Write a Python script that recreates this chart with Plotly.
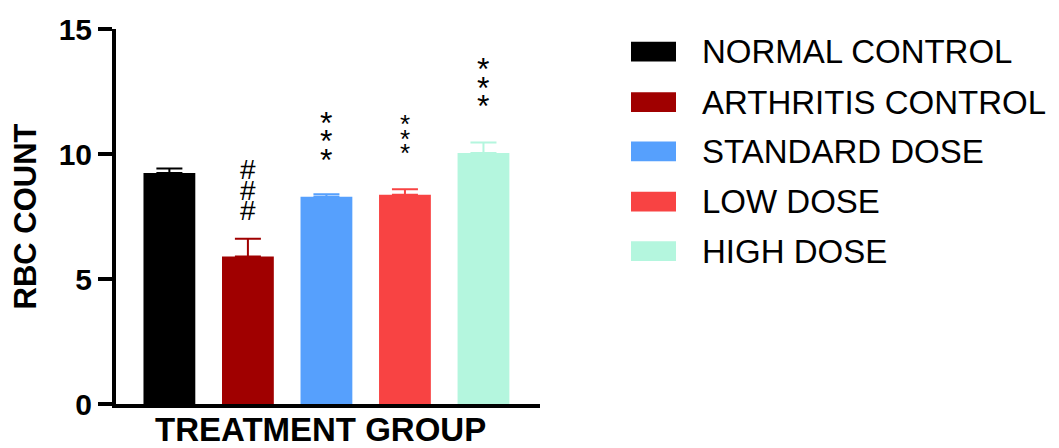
import plotly.graph_objects as go

# Group means and SEM of the RBC count per treatment group
groups = ["NORMAL CONTROL", "ARTHRITIS CONTROL", "STANDARD DOSE", "LOW DOSE", "HIGH DOSE"]
rbc_mean = [9.24, 5.90, 8.29, 8.37, 10.04]
rbc_sem = [0.18, 0.71, 0.10, 0.22, 0.42]
# Significance marks shown above each bar ("#" vs normal, "*" vs arthritis)
sig_marks = ["", "#", "*", "*", "*"]
y_ticks = [0, 5, 10, 15]

colors = ["#000000", "#A00000", "#56A0FD", "#F84343", "#B4F6DE"]
mark_font = [28, 28, 32, 26, 32]            # font size of each symbol
mark_step = [20.5, 20.5, 18.5, 14.5, 18.5]  # spacing between stacked symbols (px)
mark_gap = [28, 28, 37, 38, 39]             # lift of the first symbol centre above the cap (px)

FONT = "Arial, Liberation Sans, sans-serif"

# Plot area in pixels (left, right, top, bottom)
W, H = 1059, 448
L, R, T, B = 116, 540, 24, 404

fig = go.Figure()
for name, m, s, c in zip(groups, rbc_mean, rbc_sem, colors):
    fig.add_trace(go.Bar(
        x=[name], y=[m], width=0.66,
        marker=dict(color=c, line=dict(width=0)),
        error_y=dict(type="data", array=[s], arrayminus=[0], symmetric=False,
                     color=c, thickness=2, width=13),
        showlegend=False, hoverinfo="skip",
    ))

annotations = []
# stacked significance symbols above the error bars
for i, (name, m, s, mk) in enumerate(zip(groups, rbc_mean, rbc_sem, sig_marks)):
    if not mk:
        continue
    # an asterisk sits high in its line box, so pull it down a little
    glyph_lift = 0.08 * mark_font[i] if mk == "*" else 0
    for j in range(3):
        annotations.append(dict(
            x=name, y=m + s, xref="x", yref="y", text=mk, showarrow=False,
            yanchor="middle", yshift=mark_gap[i] + j * mark_step[i] - glyph_lift,
            font=dict(family=FONT, size=mark_font[i], color="#000000"),
        ))

def px_x(p):
    return (p - L) / (R - L)

def px_y(p):
    return (B - p) / (B - T)

# legend drawn as swatches + labels
shapes = []
row_y = [47, 98, 148, 199, 249]
for name, c, ry in zip(groups, colors, row_y):
    shapes.append(dict(type="rect", xref="paper", yref="paper",
                       x0=px_x(631), x1=px_x(676), y0=px_y(ry + 10), y1=px_y(ry - 10),
                       fillcolor=c, line=dict(width=0)))
    annotations.append(dict(x=px_x(700), y=px_y(ry), xref="paper", yref="paper",
                            text=name, showarrow=False, xanchor="left", yanchor="middle",
                            font=dict(family=FONT, size=33, color="#000000")))

# x axis title
annotations.append(dict(x=px_x(320), y=px_y(451), xref="paper", yref="paper",
                        text="<b>TREATMENT GROUP</b>", showarrow=False,
                        xanchor="center", yanchor="bottom",
                        font=dict(family=FONT, size=33, color="#000000")))

fig.update_layout(
    width=W, height=H,
    margin=dict(l=L, r=W - R, t=T, b=H - B, pad=0),
    paper_bgcolor="white", plot_bgcolor="white",
    barmode="overlay",
    annotations=annotations,
    shapes=shapes,
    xaxis=dict(range=[-0.68, 4.72], showticklabels=False, ticks="",
               showline=True, linewidth=4, linecolor="#000000",
               showgrid=False, zeroline=False, fixedrange=True),
    yaxis=dict(range=[0, 15], tickvals=y_ticks, ticks="outside", ticklen=14,
               tickwidth=4, tickcolor="#000000",
               showline=True, linewidth=4, linecolor="#000000",
               showgrid=False, zeroline=False, fixedrange=True,
               tickfont=dict(family=FONT, size=30, color="#000000", weight="bold"),
               title=dict(text="<b>RBC COUNT</b>", standoff=14,
                          font=dict(family=FONT, size=31, color="#000000"))),
)

fig.write_html("out.html")
